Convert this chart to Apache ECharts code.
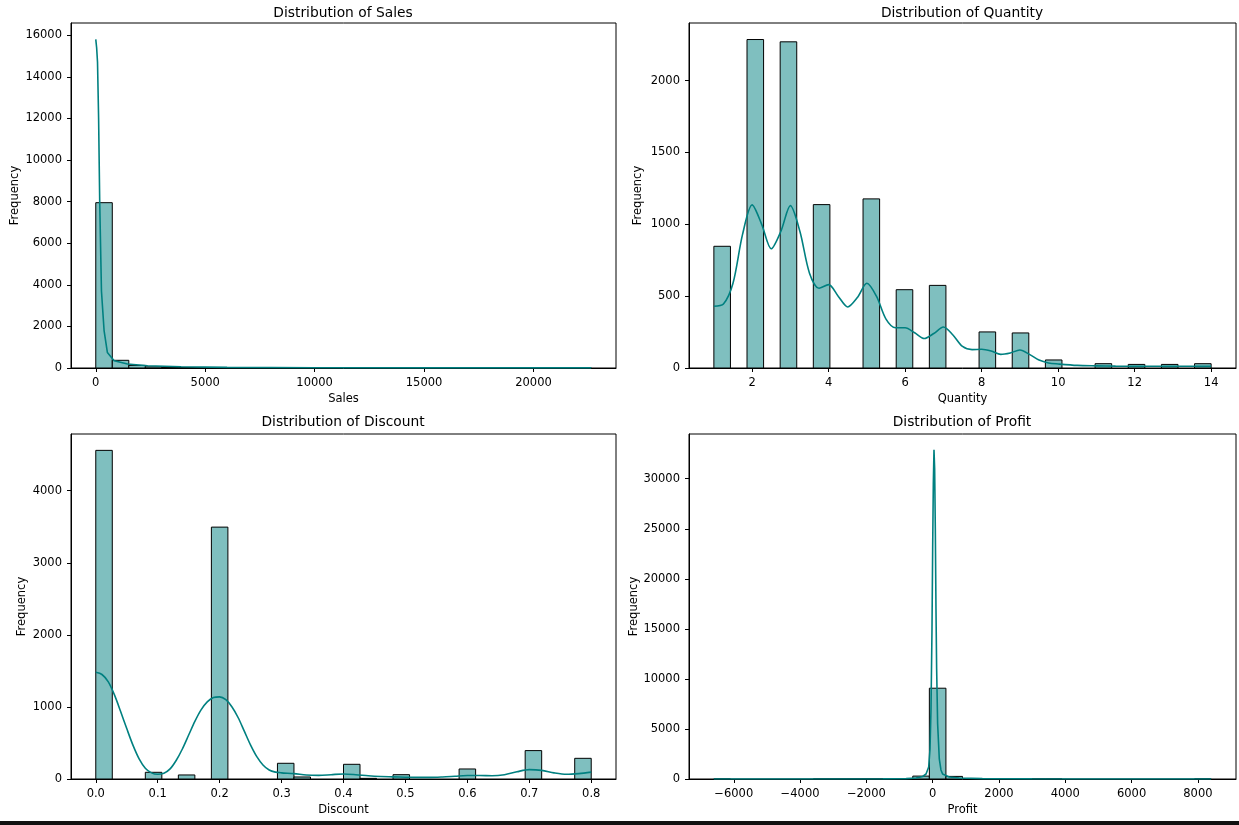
<!doctype html>
<html lang="en">

<head>
	<meta charset="UTF-8">
	<title>Distributions</title>
	<script src="https://cdn.jsdelivr.net/npm/echarts@6/dist/echarts.min.js"></script>
	<style>
		html,
		body {
			margin: 0;
			padding: 0;
			width: 100%;
			height: 100%;
			background: #fff;
		}

		#main {
			width: 1239px;
			height: 825px;
		}
	</style>
</head>

<body>
	<div id="main"></div>
	<script type="text/javascript">
		// histogram counts (30 bins each)
		var salesRange = [0.444, 22638.48];
		var salesCounts = [7950, 370, 125, 55, 30, 20, 12, 8, 6, 4, 3, 2, 2, 1, 1, 1, 1, 0, 1, 0, 0, 0, 0, 1, 0, 0, 0, 0, 0, 1];
		var salesKdeX = [0.44, 40, 80, 130, 180, 260, 380, 530, 840, 1450, 2370, 3900, 6000, 10000, 15000, 22638];
		var salesKdeY = [15800, 15400, 14700, 12000, 8000, 3700, 1800, 750, 350, 190, 110, 60, 30, 15, 8, 5];

		var qtyRange = [1, 14];
		var qtyCounts = [847, 0, 2286, 0, 2270, 0, 1137, 0, 0, 1177, 0, 545, 0, 575, 0, 0, 251, 0, 244, 0, 56, 0, 0, 30, 0, 25, 0, 25, 0, 30];
		var qtyKdeX = [1, 1.25, 1.5, 1.75, 2, 2.25, 2.5, 2.75, 3, 3.25, 3.5, 3.75, 4, 4.25, 4.5, 4.75, 5, 5.25, 5.5, 5.75, 6, 6.25, 6.5, 6.75, 7, 7.25, 7.5, 7.75, 8, 8.25, 8.5, 8.75, 9, 9.25, 9.5, 9.75, 10, 10.5, 11, 11.5, 12, 13, 14];
		var qtyKdeY = [430, 445, 590, 930, 1135, 1000, 830, 950, 1130, 950, 660, 555, 580, 500, 425, 490, 590, 500, 340, 280, 280, 245, 205, 240, 285, 230, 150, 128, 130, 118, 95, 105, 125, 95, 55, 35, 28, 18, 15, 13, 12, 12, 12];

		var discRange = [0, 0.8];
		var discCounts = [4560, 0, 0, 93, 0, 56, 0, 3495, 0, 0, 0, 218, 28, 0, 0, 204, 9, 0, 60, 0, 0, 0, 139, 0, 0, 0, 394, 0, 0, 287];
		var discKdeX = [0, 0.01, 0.02, 0.03, 0.04, 0.05, 0.06, 0.07, 0.08, 0.09, 0.1, 0.11, 0.12, 0.13, 0.14, 0.15, 0.16, 0.17, 0.18, 0.19, 0.2, 0.21, 0.22, 0.23, 0.24, 0.25, 0.26, 0.27, 0.28, 0.29, 0.3, 0.32, 0.34, 0.36, 0.38, 0.4, 0.42, 0.44, 0.46, 0.48, 0.5, 0.52, 0.54, 0.56, 0.58, 0.6, 0.62, 0.64, 0.66, 0.68, 0.7, 0.72, 0.74, 0.76, 0.78, 0.8];
		var discKdeY = [1480, 1450, 1350, 1170, 940, 700, 470, 280, 150, 85, 65, 80, 140, 260, 420, 610, 800, 960, 1070, 1130, 1140, 1100, 1000, 850, 660, 470, 310, 195, 125, 95, 85, 75, 55, 50, 60, 70, 60, 45, 35, 30, 25, 22, 22, 28, 38, 48, 48, 45, 60, 100, 130, 120, 85, 65, 75, 95];

		var profitRange = [-6599.98, 8399.98];
		var profitCounts = [1, 0, 0, 0, 0, 0, 1, 2, 4, 8, 15, 45, 290, 9070, 260, 50, 18, 8, 4, 3, 1, 0, 0, 0, 0, 0, 0, 0, 0, 1];
		var profitKdeX = [-6600, -3000, -1500, -800, -500, -300, -200, -120, -80, -50, -20, 0, 20, 40, 60, 80, 100, 120, 150, 200, 250, 300, 500, 800, 1500, 3000, 8400];
		var profitKdeY = [2, 5, 15, 40, 100, 250, 500, 1200, 3000, 7000, 15000, 23000, 29500, 32900, 31000, 25000, 17000, 11000, 5500, 2000, 900, 500, 200, 100, 40, 15, 2];

		// tick labels
		var salesXTicks = [0, 5000, 10000, 15000, 20000];
		var salesYTicks = [0, 2000, 4000, 6000, 8000, 10000, 12000, 14000, 16000];
		var qtyXTicks = [2, 4, 6, 8, 10, 12, 14];
		var qtyYTicks = [0, 500, 1000, 1500, 2000];
		var discXTicks = [0, 0.1, 0.2, 0.3, 0.4, 0.5, 0.6, 0.7, 0.8];
		var discYTicks = [0, 1000, 2000, 3000, 4000];
		var profitXTicks = [-6000, -4000, -2000, 0, 2000, 4000, 6000, 8000];
		var profitYTicks = [0, 5000, 10000, 15000, 20000, 25000, 30000];

		var FONT = 'DejaVu Sans';
		var BAR_FILL = '#7fbfbf';
		var LINE = '#008080';

		function bins(range, counts) {
			var w = (range[1] - range[0]) / counts.length;
			var out = [];
			for (var i = 0; i < counts.length; i++) {
				if (counts[i] > 0) out.push([range[0] + i * w, range[0] + (i + 1) * w, counts[i]]);
			}
			return out;
		}

		function zip(xs, ys) {
			return xs.map(function (x, i) { return [x, ys[i]]; });
		}

		function renderBin(params, api) {
			var p0 = api.coord([api.value(0), api.value(2)]);
			var p1 = api.coord([api.value(1), 0]);
			return {
				type: 'rect',
				shape: { x: p0[0], y: p0[1], width: p1[0] - p0[0], height: p1[1] - p0[1] },
				style: { fill: BAR_FILL, stroke: '#000', lineWidth: 1 }
			};
		}

		function axis(gridIndex, min, max, ticks, name, nameGap, fmt, vertical) {
			return {
				type: 'value',
				gridIndex: gridIndex,
				min: min,
				max: max,
				name: name,
				nameLocation: 'middle',
				nameGap: nameGap,
				nameRotate: vertical ? 90 : 0,
				nameTextStyle: { fontFamily: FONT, fontSize: 11.5, color: '#000' },
				axisLine: { show: true, onZero: false, lineStyle: { color: '#000', width: 1 } },
				axisTick: { show: true, length: 4, customValues: ticks, lineStyle: { color: '#000' } },
				axisLabel: {
					customValues: ticks,
					margin: 9,
					fontFamily: FONT,
					fontSize: 11.5,
					color: '#000',
					formatter: fmt || function (v) { return String(v).replace('-', '\u2212'); }
				},
				splitLine: { show: false }
			};
		}

		var grids = [
			{ left: 71, top: 23, width: 545, height: 345 },
			{ left: 689, top: 23, width: 547, height: 345 },
			{ left: 71, top: 434, width: 545, height: 345 },
			{ left: 689, top: 434, width: 547, height: 345 }
		].map(function (g) {
			g.show = true;
			g.borderColor = '#000';
			g.borderWidth = 1;
			g.containLabel = false;
			return g;
		});

		var titles = [
			['Distribution of Sales', 343, 13],
			['Distribution of Quantity', 962, 13],
			['Distribution of Discount', 343, 422],
			['Distribution of Profit', 962, 422]
		];

		var option = {
			animation: false,
			backgroundColor: '#fff',
			grid: grids,
			graphic: titles.map(function (t) {
				return {
					type: 'text',
					x: t[1],
					y: t[2],
					style: { text: t[0], fontFamily: FONT, fontSize: 13.8, fill: '#000', textAlign: 'center', textVerticalAlign: 'middle' }
				};
			}).concat([{
				type: 'rect',
				shape: { x: 0, y: 821, width: 1239, height: 4 },
				style: { fill: '#111' }
			}]),
			xAxis: [
				axis(0, -1131.5, 23770.4, salesXTicks, 'Sales', 25),
				axis(1, 0.35, 14.65, qtyXTicks, 'Quantity', 25),
				axis(2, -0.04, 0.84, discXTicks, 'Discount', 25, function (v) { return v.toFixed(1); }),
				axis(3, -7350, 9150, profitXTicks, 'Profit', 25)
			],
			yAxis: [
				axis(0, 0, 16590, salesYTicks, 'Frequency', 50, null, true),
				axis(1, 0, 2401, qtyYTicks, 'Frequency', 45, null, true),
				axis(2, 0, 4787, discYTicks, 'Frequency', 43, null, true),
				axis(3, 0, 34467, profitYTicks, 'Frequency', 49, null, true)
			],
			series: [
				[salesRange, salesCounts, salesKdeX, salesKdeY, false],
				[qtyRange, qtyCounts, qtyKdeX, qtyKdeY, 0.3],
				[discRange, discCounts, discKdeX, discKdeY, 0.3],
				[profitRange, profitCounts, profitKdeX, profitKdeY, false]
			].reduce(function (acc, s, i) {
				acc.push({
					type: 'custom',
					xAxisIndex: i,
					yAxisIndex: i,
					renderItem: renderBin,
					encode: { x: [0, 1], y: 2 },
					clip: true,
					data: bins(s[0], s[1])
				});
				acc.push({
					type: 'line',
					xAxisIndex: i,
					yAxisIndex: i,
					showSymbol: false,
					smooth: s[4],
					lineStyle: { color: LINE, width: 1.6 },
					data: zip(s[2], s[3]),
					z: 5
				});
				return acc;
			}, [])
		};

		var myChart = echarts.init(document.getElementById('main'));
		myChart.setOption(option);
		window.onresize = () => myChart.resize();
	</script>
</body>

</html>
